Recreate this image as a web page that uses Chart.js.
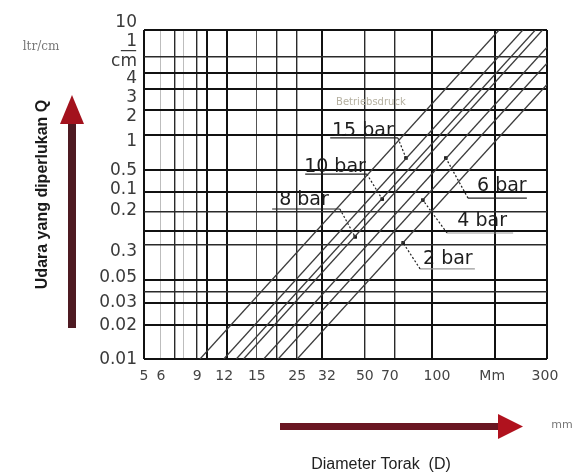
<!DOCTYPE html>
<html><head><meta charset="utf-8">
<script src="https://cdn.jsdelivr.net/npm/chart.js@4"></script>
<style>html,body{margin:0;padding:0;background:#fff}#wrap{width:578px;height:474px;position:relative}</style>
</head><body><div id="wrap"><canvas id="c"></canvas></div>
<script>
// ---- data (chart-paper units: 0..100 across, 0..100 up) ----
const xTickLabels = ['5','6','9','12','15','25','32','50','70','100','Mm','300'];
const xTickPos    = [0, 4.2, 13.2, 19.9, 28.0, 38.0, 45.4, 54.8, 61.0, 72.7, 86.4, 99.5];
const yTickLabels = ['10','1','\u2014','cm','4','3','2','1','0.5','0.1','0.2','0.3','0.05','0.03','0.02','0.01'];
const yTickPos    = [102.4, 96.4, 93.6, 90.3, 85.1, 79.6, 73.6, 66.0, 57.4, 51.4, 45.0, 32.5, 24.6, 17.3, 10.3, -0.3];
const xGridPos = [0, 4.2, 7.7, 9.7, 13.2, 15.6, 20.6, 28.0, 33.0, 38.0, 44.2, 54.8, 62.3, 71.5, 87.1, 100];
const yGridPos = [0, 10.3, 17.0, 20.4, 24.0, 34.7, 38.9, 44.7, 50.8, 57.4, 68.1, 75.7, 82.1, 86.9, 91.8, 100];
// diagonal pressure lines: x where each meets y=0 and y=100
const lineStartX = [13.9, 19.8, 22.9, 24.7, 29.7, 33.3, 38.0];
const lineEndX   = [88.1, 94.0, 97.1, 98.9, 103.9, 107.5, 112.3];
const pressureLabels = ['15 bar','10 bar','8 bar','6 bar','4 bar','2 bar'];
const dotX = [65.0, 59.1, 52.4, 74.9, 69.2, 64.3];
const dotY = [61.1, 48.6, 37.1, 61.1, 48.3, 35.3];
const labelX = [54.3, 47.4, 39.7, 88.8, 83.9, 75.4];
const labelY = [69.3, 58.4, 48.3, 52.6, 41.9, 30.4];
const underlineFromX = [46.2, 40.0, 31.8, 95.0, 91.6, 82.1];
const underlineToX   = [63.0, 55.3, 48.6, 80.4, 75.2, 68.5];
const underlineY     = [67.2, 56.2, 45.6, 48.9, 38.3, 27.4];

// ---- styles ----
const xGridStyle = ['b','l','m','l','m','b','b','t','m','m','b','m','m','b','b','b'];
const yGridStyle = ['b','b','b','m','b','m','b','m','b','b','b','b','b','b','m','b'];
const gw = {b:2, m:1.4, t:1, l:1};
const gc = {b:'#111', m:'#2a2a2a', t:'#555', l:'#bdbdbd'};
const ulColor = ['#222','#222','#222','#222','#999','#999'];

Chart.defaults.font.family = "'DejaVu Sans', sans-serif";
Chart.defaults.color = '#3a3a3a';

const datasets = [];
lineStartX.forEach((sx, i) => {
  datasets.push({
    label: 'p' + i, data: [{x: sx, y: 0}, {x: lineEndX[i], y: 100}],
    showLine: true, borderColor: '#3c3c3c', borderWidth: 1.3, pointRadius: 0
  });
});
pressureLabels.forEach((lab, i) => {
  datasets.push({
    label: lab + ' leader',
    data: [{x: underlineFromX[i], y: underlineY[i]}, {x: underlineToX[i], y: underlineY[i]}, {x: dotX[i], y: dotY[i]}],
    showLine: true, borderColor: ulColor[i], borderWidth: 1.2, pointRadius: 0,
    segment: { borderDash: ctx => ctx.p0DataIndex === 0 ? undefined : [2, 2], borderColor: ctx => ctx.p0DataIndex === 0 ? ulColor[i] : '#222' }
  });
});
datasets.push({
  label: 'dots', data: dotX.map((x, i) => ({x, y: dotY[i]})),
  pointStyle: 'rect', pointRadius: 2.5, backgroundColor: '#111', borderColor: '#111', borderWidth: 0
});

const deco = {
  id: 'deco',
  beforeDraw(chart) {
    const {ctx} = chart;
    ctx.save(); ctx.fillStyle = '#fff'; ctx.fillRect(0, 0, chart.width, chart.height); ctx.restore();
  },
  afterDatasetsDraw(chart) {
    const {ctx, scales: {x, y}} = chart;
    ctx.save();
    ctx.fillStyle = '#1e1e1e';
    ctx.font = "19px 'DejaVu Sans', sans-serif";
    ctx.textAlign = 'center'; ctx.textBaseline = 'middle';
    pressureLabels.forEach((lab, i) => ctx.fillText(lab, x.getPixelForValue(labelX[i]), y.getPixelForValue(labelY[i])));
    ctx.fillStyle = '#b5b0a0';
    ctx.font = "10px 'DejaVu Sans', sans-serif";
    ctx.fillText('Betriebsdruck', x.getPixelForValue(56.3), y.getPixelForValue(78.0));
    ctx.restore();
  },
  afterDraw(chart) {
    const {ctx} = chart;
    ctx.save();
    ctx.fillStyle = '#4e1a22';
    ctx.fillRect(68, 120, 8, 208);
    ctx.fillStyle = '#a3121d';
    ctx.beginPath(); ctx.moveTo(72, 95); ctx.lineTo(84, 124); ctx.lineTo(60, 124); ctx.closePath(); ctx.fill();
    ctx.fillStyle = '#6a1622';
    ctx.fillRect(280, 423, 222, 7);
    ctx.fillStyle = '#b0121e';
    ctx.beginPath(); ctx.moveTo(523, 426.5); ctx.lineTo(498, 414); ctx.lineTo(498, 439); ctx.closePath(); ctx.fill();
    ctx.fillStyle = '#777';
    ctx.font = "12px 'DejaVu Serif', serif";
    ctx.textAlign = 'center'; ctx.textBaseline = 'middle';
    ctx.fillText('ltr/cm', 41, 47);
    ctx.font = "11px 'DejaVu Sans', sans-serif";
    ctx.fillText('mm', 562, 425);
    ctx.fillStyle = '#222';
    ctx.font = "16px 'Liberation Sans', Arial, sans-serif";
    ctx.fillText('Diameter Torak  (D)', 381, 465);
    ctx.restore();
  }
};

new Chart(document.getElementById('c'), {
  type: 'scatter',
  data: { datasets },
  options: {
    responsive: true, maintainAspectRatio: false, animation: false,
    layout: { padding: 0 },
    plugins: { legend: { display: false }, tooltip: { enabled: false } },
    scales: {
      x: {
        type: 'linear', position: 'bottom', min: 0, max: 100,
        afterBuildTicks: s => { s.ticks = xTickPos.map(v => ({value: v})); },
        afterFit: s => { s.height = 115; },
        ticks: { autoSkip: false, maxRotation: 0, padding: 9, color: '#444', font: {size: 14},
                 callback: (v, i) => xTickLabels[i] },
        grid: { display: false, drawTicks: false }, border: { display: false }
      },
      y: {
        type: 'linear', position: 'left', min: 0, max: 100,
        afterBuildTicks: s => { s.ticks = yTickPos.map(v => ({value: v})); },
        afterFit: s => { s.width = 144; },
        ticks: { autoSkip: false, padding: 7, color: '#3a3a3a', font: {size: 17},
                 callback: (v, i) => yTickLabels[i] },
        grid: { display: false, drawTicks: false }, border: { display: false },
        title: { display: true, text: 'Udara yang diperlukan Q', color: '#1a1a1a',
                 font: { family: "'Liberation Sans', Arial, sans-serif", size: 16, weight: 'bold' },
                 padding: { top: 33, bottom: 0 } }
      },
      xg: {
        type: 'linear', position: 'top', min: 0, max: 100,
        afterBuildTicks: s => { s.ticks = xGridPos.map(v => ({value: v})); },
        afterFit: s => { s.height = 30; },
        ticks: { display: false, autoSkip: false },
        grid: { drawTicks: false, lineWidth: c => gw[xGridStyle[c.index]], color: c => gc[xGridStyle[c.index]] },
        border: { display: false }
      },
      yg: {
        type: 'linear', position: 'right', min: 0, max: 100,
        afterBuildTicks: s => { s.ticks = yGridPos.map(v => ({value: v})); },
        afterFit: s => { s.width = 31; },
        ticks: { display: false, autoSkip: false },
        grid: { drawTicks: false, lineWidth: c => gw[yGridStyle[c.index]], color: c => gc[yGridStyle[c.index]] },
        border: { display: false }
      }
    }
  },
  plugins: [deco]
});
</script>
</body></html>
